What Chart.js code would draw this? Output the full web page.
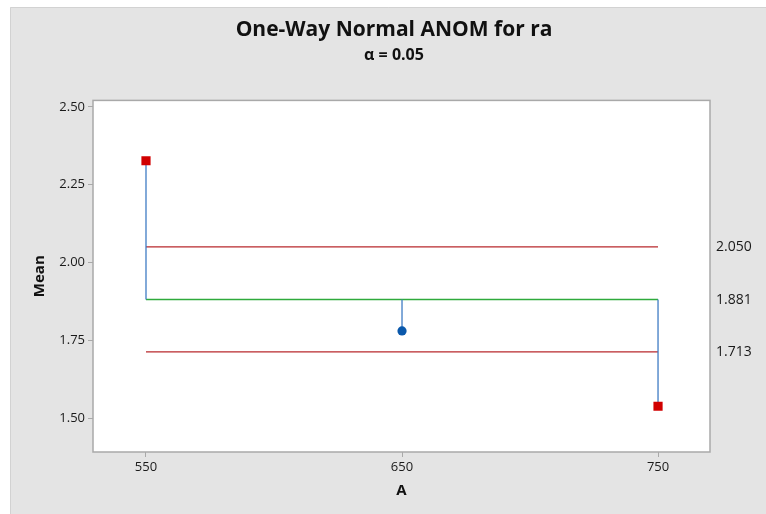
<!DOCTYPE html>
<html>
<head>
<meta charset="utf-8">
<script src="https://cdn.jsdelivr.net/npm/chart.js@4/dist/chart.umd.min.js"></script>
<style>
  html, body { margin: 0; padding: 0; background: #ffffff; }
  #wrap { width: 766px; height: 514px; }
</style>
</head>
<body>
<div id="wrap"><canvas id="c" width="766" height="514"></canvas></div>
<script>
// ---- data ----
const groups = [550, 650, 750];
const groupMeans = [2.327, 1.780, 1.538];
const centerLine = 1.881;
const upperLimit = 2.050;
const lowerLimit = 1.713;
const yTickValues = [1.50, 1.75, 2.00, 2.25, 2.50];
const xTickValues = [550, 650, 750];
const limitTickValues = [lowerLimit, centerLine, upperLimit];
const titleText = 'One-Way Normal ANOM for ra';
const subtitleText = 'α = 0.05';
const xAxisTitle = 'A';
const yAxisTitle = 'Mean';

// ---- styles ----
const RED = '#d10000';
const BLUE = '#0a58ab';
const STEM = '#3f7cc4';
const GREEN = '#2faa3c';
const LIMIT = '#b8282c';
const FRAME = '#a9a9a9';
const BG = '#e4e4e4';
const FONT = "'Open Sans', 'Noto Sans', 'DejaVu Sans', sans-serif";

const isOut = groupMeans.map(m => m > upperLimit || m < lowerLimit);

const datasets = [];
datasets.push({
  label: 'means',
  data: groups.map((g, i) => ({x: g, y: groupMeans[i]})),
  showLine: false,
  pointStyle: isOut.map(o => o ? 'rect' : 'circle'),
  pointRadius: isOut.map(o => o ? 6.5 : 4.6),
  pointHoverRadius: isOut.map(o => o ? 6.5 : 4.6),
  pointBackgroundColor: isOut.map(o => o ? RED : BLUE),
  pointBorderColor: isOut.map(o => o ? RED : BLUE),
  pointBorderWidth: 0
});
groups.forEach((g, i) => {
  datasets.push({
    label: 'stem' + g,
    data: [{x: g, y: groupMeans[i]}, {x: g, y: centerLine}],
    showLine: true,
    borderColor: STEM,
    borderWidth: 1.3,
    pointRadius: 0
  });
});
datasets.push({
  label: 'center',
  data: [{x: groups[0], y: centerLine}, {x: groups[groups.length - 1], y: centerLine}],
  showLine: true, borderColor: GREEN, borderWidth: 1.6, pointRadius: 0
});
datasets.push({
  label: 'udl',
  data: [{x: groups[0], y: upperLimit}, {x: groups[groups.length - 1], y: upperLimit}],
  showLine: true, borderColor: LIMIT, borderWidth: 1.2, pointRadius: 0
});
datasets.push({
  label: 'ldl',
  data: [{x: groups[0], y: lowerLimit}, {x: groups[groups.length - 1], y: lowerLimit}],
  showLine: true, borderColor: LIMIT, borderWidth: 1.2, pointRadius: 0
});

const bgPlugin = {
  id: 'bg',
  beforeDraw(chart) {
    const ctx = chart.ctx;
    const {left, top, right, bottom} = chart.chartArea;
    ctx.save();
    ctx.fillStyle = '#ffffff';
    ctx.fillRect(0, 0, chart.width, chart.height);
    ctx.fillStyle = BG;
    ctx.fillRect(10, 7, chart.width - 10, chart.height - 7);
    ctx.strokeStyle = '#d2d2d2';
    ctx.lineWidth = 1;
    ctx.beginPath();
    ctx.moveTo(10.5, chart.height); ctx.lineTo(10.5, 7.5); ctx.lineTo(chart.width, 7.5);
    ctx.stroke();
    ctx.fillStyle = '#ffffff';
    ctx.fillRect(left, top, right - left, bottom - top);
    ctx.restore();
  },
  afterDatasetsDraw(chart) {
    const ctx = chart.ctx;
    const {left, top, right, bottom} = chart.chartArea;
    ctx.save();
    ctx.strokeStyle = FRAME;
    ctx.lineWidth = 1.5;
    ctx.strokeRect(left, top, right - left, bottom - top);
    ctx.restore();
  }
};

const yMin = 1.391, yMax = 2.521;

new Chart(document.getElementById('c'), {
  type: 'scatter',
  data: { datasets },
  options: {
    responsive: false,
    animation: false,
    events: [],
    layout: { padding: { left: 22, right: 0, top: 7, bottom: 10 } },
    plugins: {
      legend: { display: false },
      tooltip: { enabled: false },
      title: {
        display: true, text: titleText, color: '#111111',
        font: { family: FONT, size: 21, weight: 'bold' },
        padding: { top: 10, bottom: 2 }
      },
      subtitle: {
        display: true, text: subtitleText, color: '#111111',
        font: { family: FONT, size: 16, weight: 'bold' },
        padding: { top: 2, bottom: 35 }
      }
    },
    scales: {
      x: {
        type: 'linear', min: 529.3, max: 770.3,
        afterBuildTicks(s) { s.ticks = xTickValues.map(v => ({value: v})); },
        afterFit(s) { s.height = 52; },
        grid: { display: true, drawOnChartArea: false, drawTicks: true, tickLength: 5, color: FRAME, lineWidth: 1 },
        border: { display: false },
        ticks: { color: '#1a1a1a', font: { family: FONT, size: 13 }, padding: 2, maxRotation: 0,
                 callback: v => String(v) },
        title: { display: true, text: xAxisTitle, color: '#111111',
                 font: { family: FONT, size: 15, weight: 'bold' }, padding: { top: 4, bottom: 4 } }
      },
      y: {
        type: 'linear', min: yMin, max: yMax,
        afterBuildTicks(s) { s.ticks = yTickValues.map(v => ({value: v})); },
        afterFit(s) { s.width = 71; },
        grid: { display: true, drawOnChartArea: false, drawTicks: true, tickLength: 5, color: FRAME, lineWidth: 1 },
        border: { display: false },
        ticks: { color: '#1a1a1a', font: { family: FONT, size: 13 }, padding: 3,
                 callback: v => Number(v).toFixed(2) },
        title: { display: true, text: yAxisTitle, color: '#111111',
                 font: { family: FONT, size: 15, weight: 'bold' }, padding: { top: 9, bottom: 4 } }
      },
      y2: {
        type: 'linear', position: 'right', min: yMin, max: yMax,
        afterBuildTicks(s) { s.ticks = limitTickValues.map(v => ({value: v})); },
        afterFit(s) { s.width = 56; },
        grid: { display: false, drawTicks: false },
        border: { display: false },
        ticks: { color: '#1a1a1a', font: { family: FONT, size: 14 }, padding: 6,
                 callback: v => Number(v).toFixed(3) }
      }
    }
  },
  plugins: [bgPlugin]
});
</script>
</body>
</html>
